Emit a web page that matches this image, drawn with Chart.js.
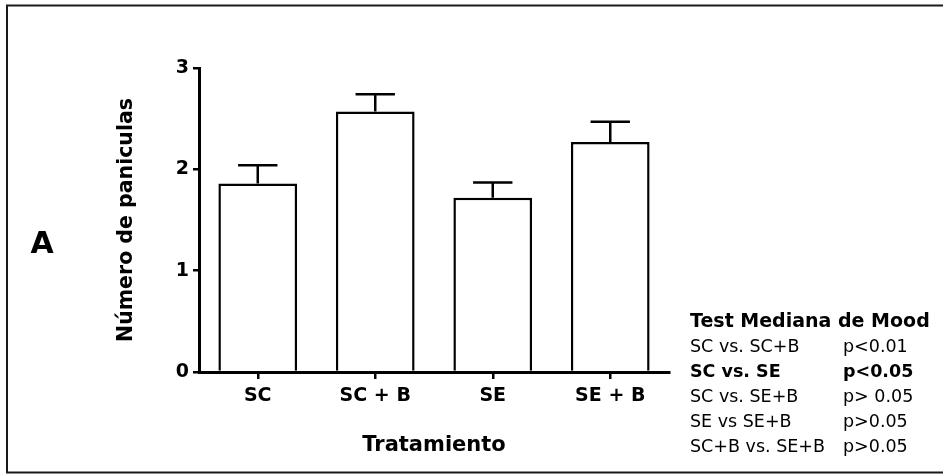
<!DOCTYPE html>
<html>
<head>
<meta charset="utf-8">
<script src="https://cdn.jsdelivr.net/npm/chart.js@4.4.1/dist/chart.umd.min.js"></script>
<style>
  html, body { margin: 0; padding: 0; background: #fff; }
  #chart { display: block; }
</style>
</head>
<body>
<canvas id="chart" width="943" height="474"></canvas>
<script>
const categories = ["SC", "SC + B", "SE", "SE + B"];
const means = [1.86, 2.57, 1.72, 2.27];
const sem = [0.18, 0.17, 0.15, 0.2];
const yTicks = [0, 1, 2, 3];

const panelLetter = "A";
const xTitle = "Tratamiento";
const yTitle = "Número de paniculas";

const testTitle = "Test Mediana de Mood";
const testPairs = ["SC vs. SC+B", "SC vs. SE", "SC vs. SE+B", "SE vs SE+B", "SC+B vs. SE+B"];
const testPvalues = ["p<0.01", "p<0.05", "p> 0.05", "p>0.05", "p>0.05"];
const testBold = [false, true, false, false, false];

const FONT = "'DejaVu Sans', sans-serif";

// error bars (mean + SEM, upward only) and all the free text around the plot
const extras = {
  id: "extras",
  afterDatasetsDraw(chart) {
    const ctx = chart.ctx;
    const y = chart.scales.y;
    const meta = chart.getDatasetMeta(0);
    ctx.save();
    ctx.strokeStyle = "#000";
    ctx.lineWidth = 2.5;
    meta.data.forEach((bar, i) => {
      const top = y.getPixelForValue(means[i] + sem[i]);
      const half = bar.width / 4;
      ctx.beginPath();
      ctx.moveTo(bar.x, bar.y);
      ctx.lineTo(bar.x, top);
      ctx.moveTo(bar.x - half, top);
      ctx.lineTo(bar.x + half, top);
      ctx.stroke();
    });
    ctx.restore();
  },
  afterDraw(chart) {
    const ctx = chart.ctx;
    const area = chart.chartArea;
    ctx.save();

    // frame (right side is cut off in the original)
    ctx.strokeStyle = "#1a1a1a";
    ctx.lineWidth = 2;
    ctx.beginPath();
    ctx.moveTo(943, 5.5);
    ctx.lineTo(7, 5.5);
    ctx.lineTo(7, 472.5);
    ctx.lineTo(943, 472.5);
    ctx.stroke();

    ctx.fillStyle = "#000";
    ctx.textBaseline = "middle";

    ctx.textAlign = "center";
    ctx.font = "bold 30px " + FONT;
    ctx.fillText(panelLetter, 42, 245);

    ctx.font = "bold 21px " + FONT;
    ctx.fillText(xTitle, (area.left + area.right) / 2, 446);

    ctx.save();
    ctx.translate(127, (area.top + area.bottom) / 2);
    ctx.rotate(-Math.PI / 2);
    ctx.font = "bold 20.5px " + FONT;
    ctx.fillText(yTitle, 0, 0);
    ctx.restore();

    ctx.textAlign = "left";
    ctx.font = "bold 19px " + FONT;
    ctx.fillText(testTitle, 690, 322);
    testPairs.forEach((pair, i) => {
      const rowY = 347 + i * 25;
      ctx.font = (testBold[i] ? "bold " : "") + "17.5px " + FONT;
      ctx.fillText(pair, 690, rowY);
      ctx.fillText(testPvalues[i], 843, rowY);
    });

    ctx.restore();
  },
};

new Chart(document.getElementById("chart"), {
  type: "bar",
  data: {
    labels: categories,
    datasets: [
      {
        data: means,
        backgroundColor: "#fff",
        borderColor: "#000",
        borderWidth: 2.5,
        borderSkipped: "bottom",
        barPercentage: 0.67,
        categoryPercentage: 1,
      },
    ],
  },
  options: {
    responsive: false,
    animation: false,
    layout: { padding: { top: 68, right: 274, left: 0, bottom: 0 } },
    plugins: {
      legend: { display: false },
      tooltip: { enabled: false },
    },
    scales: {
      x: {
        afterFit: (s) => { s.height = 102; },
        grid: {
          offset: false,
          drawOnChartArea: false,
          tickLength: 7,
          lineWidth: 2.5,
          color: "#000",
        },
        border: { color: "#000", width: 3 },
        ticks: {
          color: "#000",
          padding: 6,
          font: { family: FONT, weight: "bold", size: 19 },
        },
      },
      y: {
        min: 0,
        max: 3,
        afterFit: (s) => { s.width = 199; },
        afterBuildTicks: (s) => { s.ticks = yTicks.map((v) => ({ value: v })); },
        grid: {
          drawOnChartArea: false,
          tickLength: 6,
          lineWidth: 2.5,
          color: "#000",
        },
        border: { color: "#000", width: 3 },
        ticks: {
          color: "#000",
          padding: 4,
          font: { family: FONT, weight: "bold", size: 19 },
        },
      },
    },
  },
  plugins: [extras],
});
</script>
</body>
</html>
